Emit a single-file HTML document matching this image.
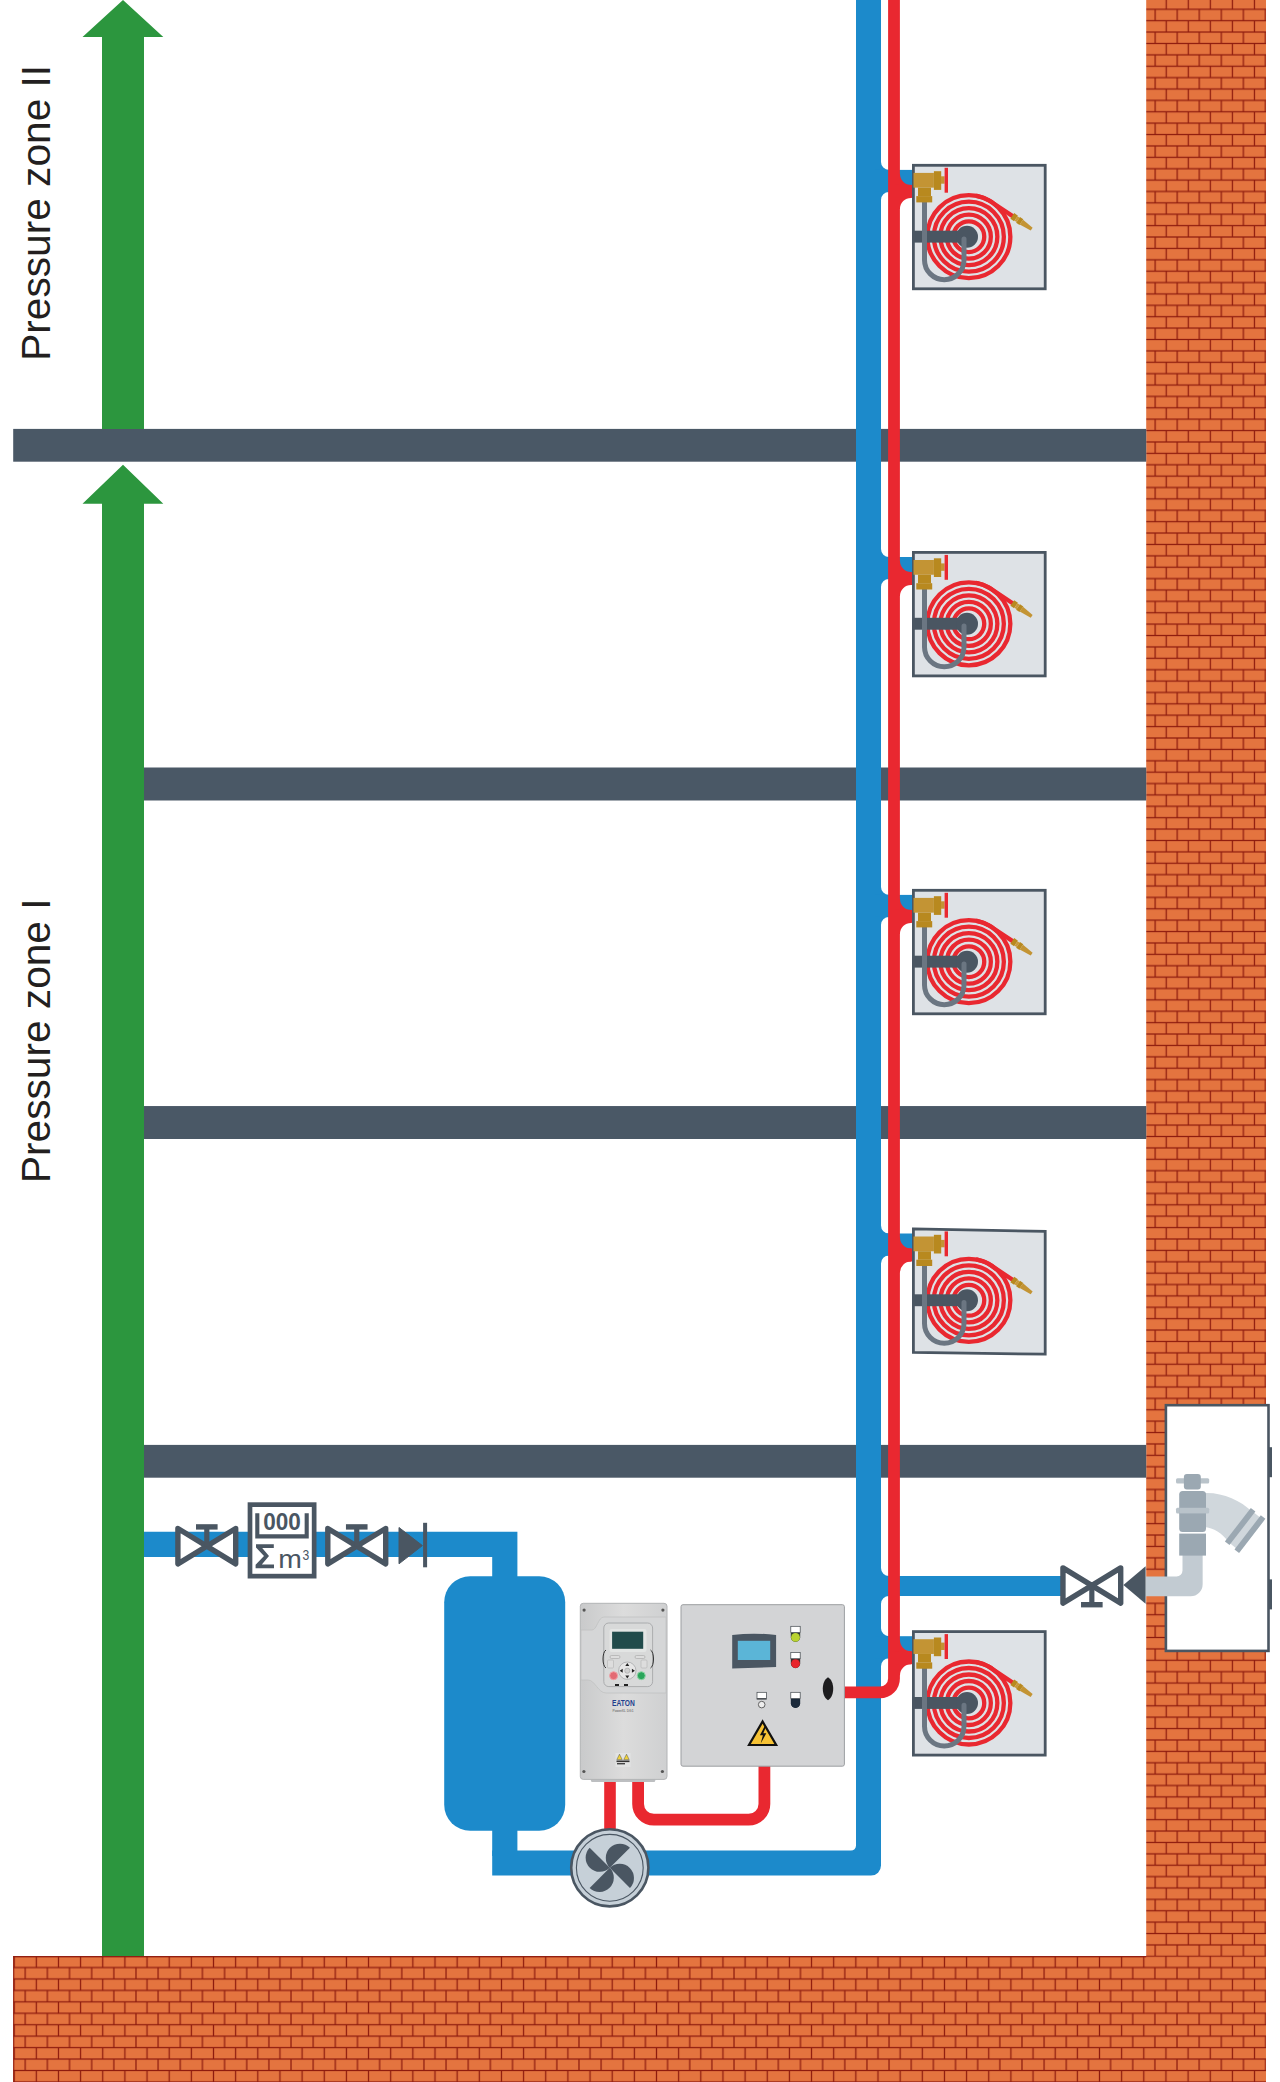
<!DOCTYPE html>
<html><head><meta charset="utf-8"><title>Pressure zones</title>
<style>html,body{margin:0;padding:0;background:#fff;width:1280px;height:2082px;overflow:hidden}
svg text{font-family:"Liberation Sans",sans-serif}</style></head><body>
<svg width="1280" height="2082" viewBox="0 0 1280 2082" style="display:block">
<defs><pattern id="brick" patternUnits="userSpaceOnUse" x="1155.2" y="9.3" width="22.05" height="22.772">
 <rect width="22.05" height="22.772" fill="#e4743f"/>
 <rect x="0" y="-0.625" width="22.05" height="1.25" fill="#8e1b0e"/>
 <rect x="0" y="10.761" width="22.05" height="1.25" fill="#8e1b0e"/>
 <rect x="0" y="22.147" width="22.05" height="1.25" fill="#8e1b0e"/>
 <rect x="-0.625" y="0" width="1.25" height="11.386" fill="#8e1b0e"/>
 <rect x="21.425" y="0" width="1.25" height="11.386" fill="#8e1b0e"/>
 <rect x="10.4" y="11.386" width="1.25" height="11.386" fill="#8e1b0e"/>
</pattern><pattern id="floorR" patternUnits="userSpaceOnUse" x="1177.0249999999999" y="1944.6599999999999" width="22.15" height="22.88">
 <rect width="22.15" height="22.88" fill="#e4743f"/>
 <rect x="0" y="-0.625" width="22.15" height="1.25" fill="#8e1b0e"/>
 <rect x="0" y="10.815" width="22.15" height="1.25" fill="#8e1b0e"/>
 <rect x="0" y="22.255" width="22.15" height="1.25" fill="#8e1b0e"/>
 <rect x="-0.625" y="0" width="1.25" height="11.44" fill="#8e1b0e"/>
 <rect x="21.525" y="0" width="1.25" height="11.44" fill="#8e1b0e"/>
 <rect x="10.45" y="11.44" width="1.25" height="11.44" fill="#8e1b0e"/>
</pattern><g id="cab"><circle cx="56.85" cy="72.8" r="15.4" fill="none" stroke="#e92830" stroke-width="4.3"/><circle cx="56.85" cy="72.8" r="22.0" fill="none" stroke="#e92830" stroke-width="4.3"/><circle cx="56.85" cy="72.8" r="28.5" fill="none" stroke="#e92830" stroke-width="4.3"/><circle cx="56.85" cy="72.8" r="35.0" fill="none" stroke="#e92830" stroke-width="4.3"/><circle cx="56.85" cy="72.8" r="41.5" fill="none" stroke="#e92830" stroke-width="4.3"/><path d="M64.06 31.93 A41.5 41.5 0 0 1 76.33 36.16 L101 52.5" fill="none" stroke="#e92830" stroke-width="4.3" stroke-linejoin="round"/><g transform="translate(100.3 52) rotate(34.5)"><rect x="0" y="-3.4" width="4.5" height="6.8" fill="#b8891f"/><rect x="4.5" y="-2.7" width="2.5" height="5.4" fill="#c9993a"/><rect x="7" y="-3.4" width="4" height="6.8" fill="#b8891f"/><path d="M11 -2.9 L23.5 -1.7 L23.5 1.7 L11 2.9 Z" fill="#c39434"/></g><rect x="1" y="66.8" width="52" height="11.9" fill="#4a5662"/><circle cx="55" cy="72.8" r="11" fill="#4a5662"/><path d="M12.5 38 L12.5 96 A19.75 19.75 0 0 0 52 96 L52 75" fill="none" stroke="#6b7682" stroke-width="5" stroke-linecap="round"/><rect x="1.5" y="9" width="20.4" height="14.75" fill="#c39434"/><rect x="21.9" y="7.3" width="7.3" height="18.7" fill="#b8891f"/><rect x="29" y="12.4" width="3.6" height="7.4" fill="#c39434"/><rect x="32.6" y="3.9" width="3.4" height="24.9" fill="#e92830"/><rect x="6" y="23.75" width="13" height="8.5" fill="#b8891f"/><rect x="4.3" y="32.2" width="15.9" height="6.3" fill="#b8891f"/></g></defs>
<rect width="1280" height="2082" fill="#ffffff"/>
<rect x="1146.2" y="0" width="119.8" height="1960" fill="url(#brick)"/>
<rect x="13.2" y="1956.1" width="1252.8" height="126" fill="url(#floorR)"/>
<rect x="13.2" y="1956.1" width="1133" height="1.2" fill="#8e1b0e"/>
<rect x="13.2" y="1956.1" width="1.1" height="126" fill="#8e1b0e"/>
<rect x="13.2" y="428.9" width="1133" height="32.8" fill="#4a5866"/>
<rect x="144" y="767.5" width="1002.2" height="33.00" fill="#4a5866"/>
<rect x="144" y="1106.05" width="1002.2" height="32.95" fill="#4a5866"/>
<rect x="144" y="1444.9" width="1002.2" height="32.80" fill="#4a5866"/>
<path d="M123 0 L163.3 37 L144 37 L144 428.9 L102 428.9 L102 37 L82.5 37 Z" fill="#2c963e"/>
<path d="M123 464.8 L163.3 503.7 L144 503.7 L144 1956.1 L102 1956.1 L102 503.7 L82.5 503.7 Z" fill="#2c963e"/>
<text transform="translate(50.2 360.8) rotate(-90)" font-family="Liberation Sans" font-size="40.65" fill="#231f20">Pressure zone II</text>
<text transform="translate(50.2 1183.1) rotate(-90)" font-family="Liberation Sans" font-size="40.65" fill="#231f20">Pressure zone I</text>
<path d="M856 0 L881 0 L881 1865.6 A10 10 0 0 1 871 1875.6 L492.2 1875.6 L492.2 1850.6 L851 1850.6 A5 5 0 0 0 856 1845.6 Z" fill="#1c8acb"/>
<path d="M144 1531.7 L517.4 1531.7 L517.4 1580 L492.2 1580 L492.2 1556.9 L144 1556.9 Z" fill="#1c8acb"/>
<rect x="492.2" y="1826" width="25.2" height="30" fill="#1c8acb"/>
<rect x="444.2" y="1576.2" width="121" height="254.6" rx="26" ry="26" fill="#1c8acb"/>
<rect x="875" y="169.9" width="40" height="22" fill="#1c8acb"/>
<path d="M880 161.9 L881 161.9 A8 8 0 0 0 889 169.9 L889 171.4 L880 171.4 Z" fill="#1c8acb"/><path d="M880 199.9 L881 199.9 A8 8 0 0 1 889 191.9 L889 190.4 L880 190.4 Z" fill="#1c8acb"/>
<rect x="875" y="557.0" width="40" height="22" fill="#1c8acb"/>
<path d="M880 549.0 L881 549.0 A8 8 0 0 0 889 557.0 L889 558.5 L880 558.5 Z" fill="#1c8acb"/><path d="M880 587.0 L881 587.0 A8 8 0 0 1 889 579.0 L889 577.5 L880 577.5 Z" fill="#1c8acb"/>
<rect x="875" y="894.9" width="40" height="22" fill="#1c8acb"/>
<path d="M880 886.9 L881 886.9 A8 8 0 0 0 889 894.9 L889 896.4 L880 896.4 Z" fill="#1c8acb"/><path d="M880 924.9 L881 924.9 A8 8 0 0 1 889 916.9 L889 915.4 L880 915.4 Z" fill="#1c8acb"/>
<rect x="875" y="1233.5" width="40" height="22" fill="#1c8acb"/>
<path d="M880 1225.5 L881 1225.5 A8 8 0 0 0 889 1233.5 L889 1235.0 L880 1235.0 Z" fill="#1c8acb"/><path d="M880 1263.5 L881 1263.5 A8 8 0 0 1 889 1255.5 L889 1254.0 L880 1254.0 Z" fill="#1c8acb"/>
<rect x="875" y="1636.2" width="40" height="22" fill="#1c8acb"/>
<path d="M880 1628.2 L881 1628.2 A8 8 0 0 0 889 1636.2 L889 1637.7 L880 1637.7 Z" fill="#1c8acb"/><path d="M880 1666.2 L881 1666.2 A8 8 0 0 1 889 1658.2 L889 1656.7 L880 1656.7 Z" fill="#1c8acb"/>
<rect x="875" y="1576" width="186" height="20" fill="#1c8acb"/>
<path d="M880 1568 L881 1568 A8 8 0 0 0 889 1576 L889 1577.5 L880 1577.5 Z" fill="#1c8acb"/><path d="M880 1604 L881 1604 A8 8 0 0 1 889 1596 L889 1594.5 L880 1594.5 Z" fill="#1c8acb"/>
<path d="M894 -5 L894 1678.4 A14 14 0 0 1 880 1692.4 L844 1692.4" fill="none" stroke="#e92830" stroke-width="11.8"/>
<rect x="895" y="184.9" width="20" height="13" fill="#e92830"/>
<path d="M899 173.9 L900 173.9 A11 11 0 0 0 911 184.9 L911 186.4 L899 186.4 Z" fill="#e92830"/><path d="M899 208.9 L900 208.9 A11 11 0 0 1 911 197.9 L911 196.4 L899 196.4 Z" fill="#e92830"/>
<rect x="895" y="572.0" width="20" height="13" fill="#e92830"/>
<path d="M899 561.0 L900 561.0 A11 11 0 0 0 911 572.0 L911 573.5 L899 573.5 Z" fill="#e92830"/><path d="M899 596.0 L900 596.0 A11 11 0 0 1 911 585.0 L911 583.5 L899 583.5 Z" fill="#e92830"/>
<rect x="895" y="909.9" width="20" height="13" fill="#e92830"/>
<path d="M899 898.9 L900 898.9 A11 11 0 0 0 911 909.9 L911 911.4 L899 911.4 Z" fill="#e92830"/><path d="M899 933.9 L900 933.9 A11 11 0 0 1 911 922.9 L911 921.4 L899 921.4 Z" fill="#e92830"/>
<rect x="895" y="1248.5" width="20" height="13" fill="#e92830"/>
<path d="M899 1237.5 L900 1237.5 A11 11 0 0 0 911 1248.5 L911 1250.0 L899 1250.0 Z" fill="#e92830"/><path d="M899 1272.5 L900 1272.5 A11 11 0 0 1 911 1261.5 L911 1260.0 L899 1260.0 Z" fill="#e92830"/>
<rect x="895" y="1651.2" width="20" height="13" fill="#e92830"/>
<path d="M899 1640.2 L900 1640.2 A11 11 0 0 0 911 1651.2 L911 1652.7 L899 1652.7 Z" fill="#e92830"/><path d="M899 1675.2 L900 1675.2 A11 11 0 0 1 911 1664.2 L911 1662.7 L899 1662.7 Z" fill="#e92830"/>
<rect x="913.4" y="165.3" width="131.8" height="123.5" fill="#dee2e6" stroke="#4a5662" stroke-width="2.8"/>
<use href="#cab" transform="translate(912 163.9)"/>
<rect x="913.4" y="552.4" width="131.8" height="123.5" fill="#dee2e6" stroke="#4a5662" stroke-width="2.8"/>
<use href="#cab" transform="translate(912 551.0)"/>
<rect x="913.4" y="890.3" width="131.8" height="123.5" fill="#dee2e6" stroke="#4a5662" stroke-width="2.8"/>
<use href="#cab" transform="translate(912 888.9)"/>
<path d="M913.4 1228.9 L1045.2 1231.4 L1045.2 1354.2 L913.4 1352.4 Z" fill="#dee2e6" stroke="#4a5662" stroke-width="2.8"/>
<use href="#cab" transform="translate(912 1227.5)"/>
<rect x="913.4" y="1631.6000000000001" width="131.8" height="123.5" fill="#dee2e6" stroke="#4a5662" stroke-width="2.8"/>
<use href="#cab" transform="translate(912 1630.2)"/>
<path d="M177.89999999999998 1528.5500000000002 L235.70000000000002 1563.85 L235.70000000000002 1528.5500000000002 L177.89999999999998 1563.85 Z" fill="#fff" stroke="#4a5662" stroke-width="5.4" stroke-linejoin="round"/><rect x="204.20000000000002" y="1528.2" width="5.2" height="18" fill="#4a5662"/><rect x="196.0" y="1524.2" width="21.6" height="5.4" fill="#4a5662"/>
<path d="M327.8 1528.5500000000002 L385.7 1563.85 L385.7 1528.5500000000002 L327.8 1563.85 Z" fill="#fff" stroke="#4a5662" stroke-width="5.4" stroke-linejoin="round"/><rect x="354.15" y="1528.2" width="5.2" height="18" fill="#4a5662"/><rect x="345.95" y="1524.2" width="21.6" height="5.4" fill="#4a5662"/>
<rect x="250" y="1504.65" width="64.15" height="71.5" fill="#fff" stroke="#4a5662" stroke-width="4.7"/>
<path d="M257.3 1513.2 L257.3 1536.35 L306.7 1536.35 L306.7 1513.2" fill="none" stroke="#4a5662" stroke-width="4.1"/>
<text x="263.2" y="1529.9" font-family="Liberation Sans" font-weight="bold" font-size="23" fill="#4a5662" textLength="37.6" lengthAdjust="spacingAndGlyphs">000</text>
<path d="M256 1544.3 L273.8 1544.3 L273.8 1547.9 L262.2 1547.9 L269 1556 L261.8 1564.6 L274 1564.6 L274 1568.25 L255.6 1568.25 L255.6 1564.8 L264 1556 L256 1547.6 Z" fill="#4a5662"/>
<text transform="translate(278.3 1568.25) scale(1.07 1)" font-family="Liberation Sans" font-size="26.5" fill="#4a5662">m</text>
<text transform="translate(302.5 1559.5) scale(0.86 1)" font-family="Liberation Sans" font-size="14.1" fill="#4a5662">3</text>
<path d="M399 1527.5 L422.4 1545.6 L399 1563.8 Z" fill="#4a5662" stroke="#4a5662" stroke-width="1" stroke-linejoin="round"/>
<rect x="423.1" y="1522.8" width="4" height="44.5" fill="#4a5662"/>
<path d="M1062.95 1567.8500000000001 L1120.7 1603.1499999999999 L1120.7 1567.8500000000001 L1062.95 1603.1499999999999 Z" fill="#fff" stroke="#4a5662" stroke-width="5.4" stroke-linejoin="round"/><rect x="1089.2250000000001" y="1585.5" width="5.2" height="18" fill="#4a5662"/><rect x="1081.025" y="1602.0" width="21.6" height="5.4" fill="#4a5662"/>
<path d="M1123.4 1585 L1145.6 1566.3 L1145.6 1603.8 Z" fill="#4a5662"/>
<rect x="1165.9" y="1405.2" width="102.6" height="245.7" fill="#fff" stroke="#4a5662" stroke-width="2.6"/>
<rect x="1268.5" y="1447.2" width="3.5" height="30" fill="#4a5662"/>
<rect x="1268.5" y="1579.4" width="3.5" height="30" fill="#4a5662"/>
<path d="M1146 1576.6 L1176.5 1576.6 A6 6 0 0 0 1182.5 1570.6 L1182.5 1550 L1202.65 1550 L1202.65 1584.3 A12 12 0 0 1 1190.65 1596.3 L1146 1596.3 Z" fill="#c2cbd2"/>
<path d="M1204 1493 C1222 1492 1240 1500 1252 1511.5 L1228.4 1541.75 C1222 1533 1214 1528 1204 1527 Z" fill="#d0d7dc"/>
<path d="M1226 1540 L1250 1509.5 L1264 1520.5 L1240 1551.5 Z" fill="#d0d7dc"/>
<path d="M1227.2 1543.3 L1253.1 1509.8" stroke="#9ba8b2" stroke-width="5.8"/>
<path d="M1236.8 1551.3 L1263.1 1517" stroke="#9ba8b2" stroke-width="5.8"/>
<rect x="1179.2" y="1533.6" width="26.8" height="22" fill="#9ba8b2"/>
<rect x="1176" y="1507.8" width="33.2" height="5.6" rx="1.5" fill="#b9c3ca"/>
<rect x="1179.2" y="1491" width="26.8" height="41" rx="3.5" fill="#9ba8b2"/>
<rect x="1179.2" y="1507.8" width="26.8" height="5.6" fill="#b9c3ca"/>
<rect x="1176" y="1478.3" width="33.2" height="5.1" rx="1.5" fill="#b9c3ca"/>
<rect x="1183.9" y="1474" width="16.9" height="15.5" rx="3" fill="#9ba8b2"/>
<rect x="604.2" y="1775" width="11.6" height="56" fill="#e92830"/>
<path d="M638.1 1775 L638.1 1803.9 A15.8 15.8 0 0 0 653.9 1819.7 L748.6 1819.7 A15.8 15.8 0 0 0 764.4 1803.9 L764.4 1760" fill="none" stroke="#e92830" stroke-width="11.8"/>
<circle cx="609.8" cy="1867.8" r="38.6" fill="#c6d0d8" stroke="#4a5662" stroke-width="2.6"/>
<circle cx="609.8" cy="1867.8" r="33.4" fill="none" stroke="#4a5662" stroke-width="1.1"/>
<path d="M609.80 1867.80 L589.65 1847.65 A14.25 14.25 0 0 0 609.80 1867.80 Z" fill="#4a5662"/><path d="M609.80 1867.80 L629.95 1847.65 A14.25 14.25 0 0 0 609.80 1867.80 Z" fill="#4a5662"/><path d="M609.80 1867.80 L629.95 1887.95 A14.25 14.25 0 0 0 609.80 1867.80 Z" fill="#4a5662"/><path d="M609.80 1867.80 L589.65 1887.95 A14.25 14.25 0 0 0 609.80 1867.80 Z" fill="#4a5662"/>
<defs><linearGradient id="vg" x1="0" y1="0" x2="1" y2="0"><stop offset="0" stop-color="#c9cacb"/><stop offset="0.5" stop-color="#dcdcdc"/><stop offset="1" stop-color="#cfd0d1"/></linearGradient></defs>
<rect x="590.9" y="1777" width="64.4" height="5" rx="1.5" fill="#bdbfc1"/>
<rect x="580.3" y="1603.3" width="86.7" height="176.1" rx="3" fill="url(#vg)" stroke="#b2b4b6" stroke-width="1"/>
<path d="M581 1630 L592 1630 C597 1630 598 1617 604 1617 L666 1617 L666 1693 L606 1693 C598 1693 595 1680 588 1680 L581 1680 Z" fill="#d5d6d7" stroke="#c0c1c2" stroke-width="0.8"/>
<rect x="603.8" y="1623" width="48.8" height="63.6" rx="5" fill="#d8d9d9" stroke="#9fa1a3" stroke-width="0.8"/>
<rect x="609.5" y="1629" width="37" height="23" rx="2" fill="#e3e5e4"/>
<rect x="612.1" y="1631.7" width="31.1" height="17.1" fill="#214b4b"/>
<circle cx="627.3" cy="1670.7" r="8.7" fill="#e6e6e6" stroke="#a8aaac" stroke-width="0.8"/>
<circle cx="627.3" cy="1670.7" r="2.6" fill="#d0d0d0" stroke="#999" stroke-width="0.5"/>
<path d="M627.3 1663 L629.3 1666 L625.3 1666 Z M627.3 1678.4 L629.3 1675.4 L625.3 1675.4 Z M619.7 1670.7 L622.7 1668.7 L622.7 1672.7 Z M634.9 1670.7 L631.9 1668.7 L631.9 1672.7 Z" fill="#222"/>
<circle cx="613.6" cy="1675.7" r="4" fill="#e36a73" stroke="#f0a0a6" stroke-width="1"/>
<circle cx="641.3" cy="1675.7" r="4" fill="#2aa55a" stroke="#8fd6a6" stroke-width="1"/>
<rect x="607.5" y="1660" width="6" height="8" rx="1" fill="#ddd" stroke="#aaa" stroke-width="0.5"/>
<rect x="641" y="1660" width="6" height="8" rx="1" fill="#ddd" stroke="#aaa" stroke-width="0.5"/>
<rect x="610" y="1655.5" width="10" height="3" rx="1.5" fill="#ddd" stroke="#999" stroke-width="0.5"/>
<rect x="635" y="1655.5" width="10" height="3" rx="1.5" fill="#ddd" stroke="#999" stroke-width="0.5"/>
<path d="M606 1650 C602 1652 602 1666 606 1668" fill="none" stroke="#333" stroke-width="1"/>
<path d="M650.5 1650 C654.5 1652 654.5 1666 650.5 1668" fill="none" stroke="#333" stroke-width="1"/>
<rect x="615" y="1684" width="4" height="2" fill="#222"/><rect x="624" y="1684" width="4" height="2" fill="#222"/>
<circle cx="584.1" cy="1610.1" r="1.6" fill="#555"/><circle cx="662.9" cy="1610.1" r="1.6" fill="#555"/>
<circle cx="583.9" cy="1771.5" r="1.6" fill="#555"/><circle cx="662.4" cy="1771.5" r="1.6" fill="#555"/>
<text x="612" y="1705.6" font-family="Liberation Sans" font-weight="bold" font-size="8.4" fill="#1f3f8e" textLength="22.7" lengthAdjust="spacingAndGlyphs">EATON</text>
<text x="612.5" y="1711.6" font-family="Liberation Sans" font-size="3.6" fill="#555" textLength="21" lengthAdjust="spacingAndGlyphs">PowerXL DG1</text>
<rect x="615.5" y="1753" width="15" height="14" fill="#e2e3e3"/>
<path d="M616.8 1759.6 L619.5 1754.2 L622.2 1759.6 Z M623.8 1759.6 L626.5 1754.2 L629.2 1759.6 Z" fill="#f0d23a" stroke="#333" stroke-width="0.4"/>
<rect x="616.5" y="1760.5" width="13" height="1.6" fill="#333"/><rect x="617" y="1763" width="8" height="1.4" fill="#444"/>
<rect x="681" y="1604.7" width="163.4" height="161.5" rx="2" fill="#d3d4d6" stroke="#9c9ea1" stroke-width="1"/>
<path d="M732.2 1635 Q754 1632.3 776.1 1635 L776.1 1667 Q754 1667.8 732.2 1668.4 Z" fill="#4a5662"/>
<rect x="737.8" y="1640.8" width="32.4" height="19.2" fill="#5bb5d7"/>
<path d="M790.8 1632.3 L800.1999999999999 1632.3 L800.1999999999999 1637.3 A4.7 4.7 0 0 1 790.8 1637.3 Z" fill="#2e3b30"/><circle cx="795.5" cy="1637.3999999999999" r="4.4" fill="#b9d330"/><rect x="790.8" y="1626.3" width="9.4" height="6.2" fill="#fff" stroke="#3f454a" stroke-width="0.7"/>
<path d="M790.8 1658.5 L800.1999999999999 1658.5 L800.1999999999999 1663.5 A4.7 4.7 0 0 1 790.8 1663.5 Z" fill="#3a2a2c"/><circle cx="795.5" cy="1663.6" r="4.4" fill="#e8232b"/><rect x="790.8" y="1652.5" width="9.4" height="6.2" fill="#fff" stroke="#3f454a" stroke-width="0.7"/>
<rect x="757" y="1692.3" width="9.4" height="6.2" fill="#fff" stroke="#3f454a" stroke-width="0.7"/><rect x="756.7" y="1698.3" width="10" height="1.3" fill="#3f454a"/><circle cx="761.7" cy="1704.6" r="3.3" fill="#eee" stroke="#555" stroke-width="0.9"/>
<path d="M790.8 1698.3 L800.1999999999999 1698.3 L800.1999999999999 1703.3 A4.7 4.7 0 0 1 790.8 1703.3 Z" fill="#1b2a3b"/><circle cx="795.5" cy="1703.3999999999999" r="4.4" fill="#1b2a3b"/><rect x="790.8" y="1692.3" width="9.4" height="6.2" fill="#fff" stroke="#3f454a" stroke-width="0.7"/>
<path d="M828 1677.3 C831.5 1679.5 833.2 1684 833.2 1688.8 C833.2 1693.6 831.5 1698.2 828 1700.3 C824.5 1698.2 822.8 1693.6 822.8 1688.8 C822.8 1684 824.5 1679.5 828 1677.3 Z" fill="#1d1d1f"/>
<path d="M762.6 1721.5 L776.2 1745 L749 1745 Z" fill="#f6c235" stroke="#111" stroke-width="2.2" stroke-linejoin="miter"/>
<path d="M764.6 1726.3 L759.9 1735.3 L762.9 1735.3 L760.7 1743.6 L766.3 1733.2 L763.3 1733.2 L766.2 1726.3 Z" fill="#111"/>
</svg>
</body></html>
